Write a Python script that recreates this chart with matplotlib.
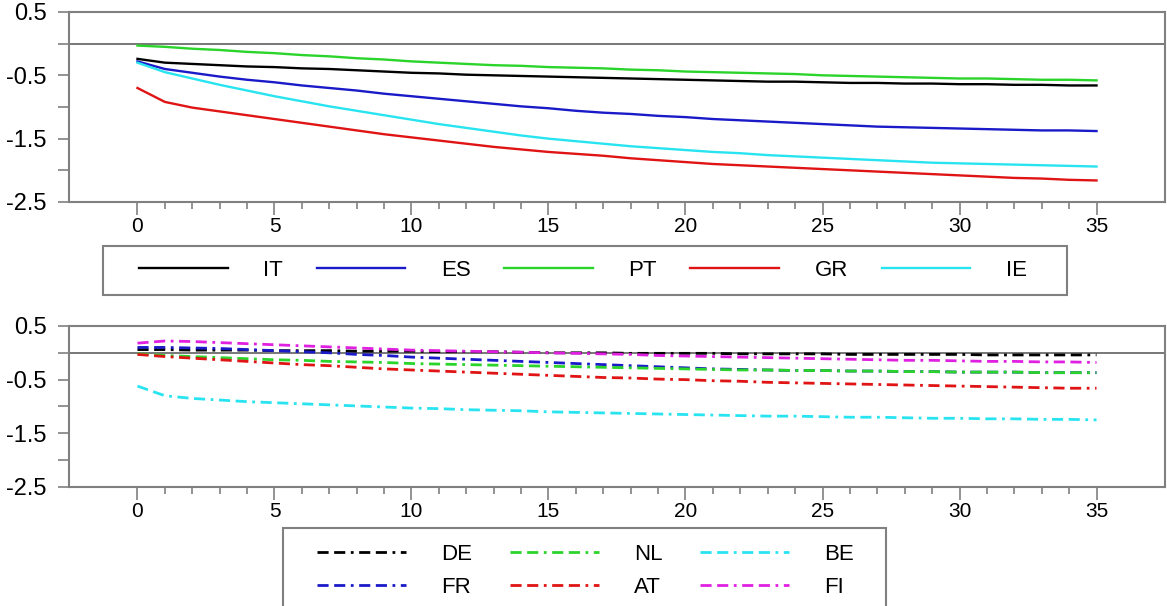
import matplotlib
matplotlib.use("Agg")
import matplotlib.pyplot as plt
from matplotlib.ticker import FixedLocator, FixedFormatter
from matplotlib.patches import Rectangle

plt.rcParams['font.family'] = ['Liberation Sans', 'DejaVu Sans']

horizon = list(range(36))

# ---- top panel (solid lines) ----
IT = [-0.24, -0.30, -0.32, -0.34, -0.36, -0.37, -0.39, -0.40, -0.42, -0.44,
      -0.46, -0.47, -0.49, -0.50, -0.51, -0.52, -0.53, -0.54, -0.55, -0.56,
      -0.57, -0.58, -0.59, -0.60, -0.60, -0.61, -0.62, -0.62, -0.63, -0.63,
      -0.64, -0.64, -0.65, -0.65, -0.66, -0.66]
ES = [-0.28, -0.40, -0.46, -0.52, -0.57, -0.61, -0.66, -0.70, -0.74, -0.79,
      -0.83, -0.87, -0.91, -0.95, -0.99, -1.02, -1.06, -1.09, -1.11, -1.14,
      -1.16, -1.19, -1.21, -1.23, -1.25, -1.27, -1.29, -1.31, -1.32, -1.33,
      -1.34, -1.35, -1.36, -1.37, -1.37, -1.38]
PT = [-0.03, -0.05, -0.08, -0.10, -0.13, -0.15, -0.18, -0.20, -0.23, -0.25,
      -0.28, -0.30, -0.32, -0.34, -0.35, -0.37, -0.38, -0.39, -0.41, -0.42,
      -0.44, -0.45, -0.46, -0.47, -0.48, -0.50, -0.51, -0.52, -0.53, -0.54,
      -0.55, -0.55, -0.56, -0.57, -0.57, -0.58]
GR = [-0.70, -0.92, -1.01, -1.07, -1.13, -1.19, -1.25, -1.31, -1.37, -1.43,
      -1.48, -1.53, -1.58, -1.63, -1.67, -1.71, -1.74, -1.77, -1.81, -1.84,
      -1.87, -1.90, -1.92, -1.94, -1.96, -1.98, -2.00, -2.02, -2.04, -2.06,
      -2.08, -2.10, -2.12, -2.13, -2.15, -2.16]
IE = [-0.30, -0.45, -0.55, -0.65, -0.74, -0.83, -0.91, -0.99, -1.06, -1.13,
      -1.20, -1.27, -1.33, -1.39, -1.45, -1.50, -1.54, -1.58, -1.62, -1.65,
      -1.68, -1.71, -1.73, -1.76, -1.78, -1.80, -1.82, -1.84, -1.86, -1.88,
      -1.89, -1.90, -1.91, -1.92, -1.93, -1.94]

# ---- bottom panel (dash-dot lines) ----
DE = [0.06, 0.06, 0.05, 0.05, 0.05, 0.04, 0.04, 0.04, 0.03, 0.03,
      0.03, 0.02, 0.02, 0.02, 0.01, 0.00, 0.00, 0.00, -0.01, -0.01,
      -0.01, -0.01, -0.02, -0.02, -0.02, -0.02, -0.03, -0.03, -0.03, -0.03,
      -0.03, -0.04, -0.04, -0.04, -0.04, -0.04]
FR = [0.10, 0.10, 0.09, 0.08, 0.06, 0.04, 0.02, 0.00, -0.03, -0.05,
      -0.08, -0.10, -0.12, -0.14, -0.16, -0.18, -0.20, -0.22, -0.24, -0.26,
      -0.28, -0.30, -0.31, -0.32, -0.33, -0.33, -0.34, -0.34, -0.35, -0.35,
      -0.36, -0.36, -0.36, -0.37, -0.37, -0.37]
NL = [-0.02, -0.05, -0.07, -0.09, -0.11, -0.13, -0.14, -0.16, -0.17, -0.18,
      -0.20, -0.21, -0.22, -0.23, -0.24, -0.25, -0.26, -0.27, -0.28, -0.29,
      -0.30, -0.31, -0.32, -0.32, -0.33, -0.33, -0.34, -0.34, -0.35, -0.35,
      -0.36, -0.36, -0.36, -0.37, -0.37, -0.37]
AT = [-0.03, -0.07, -0.10, -0.13, -0.16, -0.19, -0.22, -0.24, -0.27, -0.30,
      -0.32, -0.34, -0.36, -0.38, -0.40, -0.42, -0.44, -0.46, -0.47, -0.49,
      -0.50, -0.52, -0.53, -0.55, -0.56, -0.57, -0.58, -0.59, -0.60, -0.61,
      -0.62, -0.63, -0.64, -0.65, -0.66, -0.66]
BE = [-0.62, -0.80, -0.85, -0.88, -0.91, -0.93, -0.95, -0.97, -0.99, -1.01,
      -1.03, -1.04, -1.06, -1.07, -1.08, -1.10, -1.11, -1.12, -1.13, -1.14,
      -1.15, -1.16, -1.17, -1.18, -1.18, -1.19, -1.20, -1.20, -1.21, -1.22,
      -1.22, -1.23, -1.23, -1.24, -1.24, -1.25]
FI = [0.18, 0.22, 0.21, 0.19, 0.17, 0.15, 0.13, 0.11, 0.09, 0.07,
      0.05, 0.04, 0.03, 0.02, 0.01, 0.00, -0.01, -0.02, -0.03, -0.05,
      -0.06, -0.07, -0.08, -0.09, -0.10, -0.11, -0.12, -0.13, -0.14, -0.14,
      -0.15, -0.16, -0.16, -0.17, -0.17, -0.18]

top_series = [("IT", IT, "#000000"), ("ES", ES, "#1a1ac8"), ("PT", PT, "#2ad42a"),
              ("GR", GR, "#e01414"), ("IE", IE, "#28e4f0")]
bot_series = [("DE", DE, "#000000"), ("FR", FR, "#1a1ac8"), ("NL", NL, "#2ad42a"),
              ("AT", AT, "#e01414"), ("BE", BE, "#28e4f0"), ("FI", FI, "#e020e0")]

yticks = [0.5, 0.0, -0.5, -1.0, -1.5, -2.0, -2.5]
ytick_labels = ["0.5", "", "-0.5", "", "-1.5", "", "-2.5"]
xticks = [0, 5, 10, 15, 20, 25, 30, 35]
xtick_labels = ["0", "5", "10", "15", "20", "25", "30", "35"]

GRAY = "#808080"
W, H = 1167, 606

fig = plt.figure(figsize=(11.67, 6.06), dpi=100)
ax1 = fig.add_axes([0.0591, 0.6667, 0.9392, 0.3135])
ax2 = fig.add_axes([0.0591, 0.1964, 0.9392, 0.2657])

def style(ax):
    ax.set_xlim(-2.5, 37.5)
    ax.set_ylim(-2.5, 0.5)
    ax.axhline(0, color="#606060", lw=1.2, zorder=1)
    ax.xaxis.set_major_locator(FixedLocator(xticks))
    ax.xaxis.set_major_formatter(FixedFormatter(xtick_labels))
    ax.xaxis.set_minor_locator(FixedLocator(horizon))
    ax.yaxis.set_major_locator(FixedLocator(yticks))
    ax.yaxis.set_major_formatter(FixedFormatter(ytick_labels))
    for s in ax.spines.values():
        s.set_color(GRAY)
        s.set_linewidth(1.5)
    ax.tick_params(axis="x", which="major", length=9, width=1.2, color=GRAY,
                   labelsize=15, pad=2, direction="out")
    ax.tick_params(axis="x", which="minor", length=5, width=1.2, color=GRAY,
                   direction="out")
    ax.tick_params(axis="y", which="major", length=8, width=1.2, color=GRAY,
                   labelsize=17, pad=8, direction="out")

style(ax1)
style(ax2)

for name, vals, col in top_series:
    ax1.plot(horizon, vals, color=col, lw=1.7, label=name, zorder=3)

dashdot = (0, (4, 2, 4, 2, 1, 2))
for name, vals, col in bot_series:
    ax2.plot(horizon, vals, color=col, lw=2.0, ls=dashdot, label=name, zorder=3)

def fx(px):
    return px / W

def fy(py):
    return 1 - py / H

# legend frames
fig.add_artist(Rectangle((fx(103), fy(295)), fx(1067) - fx(103), fy(246) - fy(295),
                         transform=fig.transFigure, fill=False, edgecolor=GRAY, lw=1.5))
fig.add_artist(Rectangle((fx(283), fy(640)), fx(886) - fx(283), fy(528) - fy(640),
                         transform=fig.transFigure, fill=False, edgecolor=GRAY, lw=1.5,
                         clip_on=False))

h1, l1 = ax1.get_legend_handles_labels()
fig.legend(h1, l1, ncol=5, loc="center",
           bbox_to_anchor=(fx(139), fy(270) - 0.02, fx(1027) - fx(139), 0.04),
           mode="expand", fontsize=16, frameon=False, handlelength=4.0,
           handletextpad=1.6, borderpad=0, borderaxespad=0)

h2, l2 = ax2.get_legend_handles_labels()
fig.legend(h2, l2, ncol=3, loc="upper center",
           bbox_to_anchor=(fx(317), fy(544) - 0.1, fx(854) - fx(317), 0.1),
           mode="expand", fontsize=16, frameon=False,
           handlelength=4.0, handletextpad=1.6, borderpad=0,
           labelspacing=0.55, borderaxespad=0)

fig.savefig("out.png", dpi=100)
